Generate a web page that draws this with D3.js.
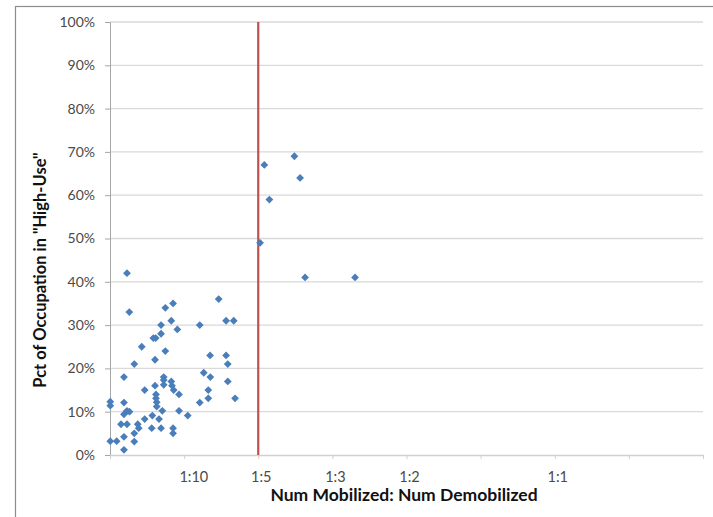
<!DOCTYPE html>
<html>
<head>
<meta charset="utf-8">
<script src="https://cdn.jsdelivr.net/npm/d3@7"></script>
<style>
  body { margin: 0; background: #fff; }
  svg { display: block; }
  text { font-family: Lato, "Open Sans", sans-serif; }
</style>
</head>
<body>
<svg id="chart" width="713" height="517"></svg>
<script>
// ratio = mobilized / (mobilized + demobilized)
const xValues = [
  0.2073, 0.1735, 0.2137, 0.1792, 0.1687, 0.2193, 0.2755,
  0.0191,
  0.0217, 0.0622, 0.0709, 0.1222, 0.0689, 0.1305, 0.1391, 0.0574, 0.1009, 0.0757,
  0.0574, 0.0487, 0.0514, 0.0357, 0.0622, 0.1125, 0.1305, 0.0506, 0.0273, 0.1324,
  0.0157, 0.1054, 0.1128, 0.0604, 0.0604, 0.0689, 0.0506, 0.0604, 0.0697, 0.1324,
  0.0390, 0.0716, 0.1105, 0.0776, 0.0517, 0.0517, 0.1105, 0.1406, 0.0525, 0.1009,
  0.0003, 0.0003, 0.0157, 0.0525, 0.0191, 0.0157, 0.0219, 0.0588, 0.0776, 0.0476,
  0.0874, 0.0551, 0.0390, 0.0124, 0.0191, 0.0312, 0.0323, 0.0469, 0.0574, 0.0709,
  0.0709, 0.0273, 0.0157, 0.0003, 0.0075, 0.0273, 0.0157
];
const yValues = [
  0.69, 0.67, 0.64, 0.59, 0.49, 0.41, 0.41,
  0.42,
  0.33, 0.34, 0.35, 0.36, 0.31, 0.31, 0.31, 0.30, 0.30, 0.29,
  0.28, 0.27, 0.27, 0.25, 0.24, 0.23, 0.23, 0.22, 0.21, 0.21,
  0.18, 0.19, 0.18, 0.18, 0.173, 0.17, 0.16, 0.162, 0.16, 0.17,
  0.15, 0.15, 0.15, 0.14, 0.14, 0.131, 0.131, 0.131, 0.122, 0.121,
  0.123, 0.114, 0.121, 0.112, 0.102, 0.094, 0.100, 0.102, 0.102, 0.091,
  0.091, 0.083, 0.083, 0.071, 0.071, 0.071, 0.062, 0.062, 0.062, 0.062,
  0.05, 0.05, 0.042, 0.032, 0.032, 0.031, 0.012
];
const yTicks = [0, 0.1, 0.2, 0.3, 0.4, 0.5, 0.6, 0.7, 0.8, 0.9, 1.0];
const xTickMarks = [0, 1/12, 2/12, 3/12, 4/12, 5/12, 6/12, 7/12, 8/12];
const xLabelNames = ["1:10", "1:5", "1:3", "1:2", "1:1"];
const xLabelValues = [1/11, 1/6, 1/4, 1/3, 1/2];
const thresholdX = 1/6;

(function () {
const svg = d3.select("#chart");
const mLeft = 110, mRight = 703, mTop = 22, mBottom = 455;

const x = d3.scaleLinear().domain([0, 8/12]).range([mLeft, mRight]);
const y = d3.scaleLinear().domain([0, 1]).range([mBottom, mTop]);

// outer border
svg.append("rect").attr("x", 15.5).attr("y", 6.5).attr("width", 720).attr("height", 540)
  .attr("fill", "none").attr("stroke", "#8c8c8c").attr("stroke-width", 1.2);

// gridlines
svg.append("g").selectAll("line").data(yTicks.slice(1)).join("line")
  .attr("x1", mLeft).attr("x2", mRight)
  .attr("y1", d => y(d)).attr("y2", d => y(d))
  .attr("stroke", "#d9d9d9").attr("stroke-width", 1.3);

// y axis
const yAxis = d3.axisLeft(y).tickValues(yTicks).tickFormat(d3.format(".0%")).tickSize(5).tickPadding(10);
const gy = svg.append("g").attr("transform", `translate(${mLeft},0)`).call(yAxis);
gy.select(".domain").attr("stroke", "#a6a6a6");
gy.selectAll(".tick line").attr("stroke", "#a6a6a6");
gy.selectAll("text").attr("font-size", 14).attr("fill", "#4a4a4a").style("font-family", "Lato, sans-serif");

// x axis (tick marks only)
const xAxis = d3.axisBottom(x).tickValues(xTickMarks).tickFormat("").tickSize(4).tickSizeOuter(0);
const gx = svg.append("g").attr("transform", `translate(0,${mBottom})`).call(xAxis);
gx.select(".domain").attr("stroke", "#d0d0d0").attr("stroke-width", 1.3);
gx.selectAll(".tick line").attr("stroke", "#d0d0d0");

// x labels
svg.append("g").selectAll("text").data(xLabelNames).join("text")
  .attr("x", (d, i) => x(xLabelValues[i]) + 3)
  .attr("y", 482)
  .attr("text-anchor", "middle")
  .attr("font-size", 14.5).attr("fill", "#4a4a4a")
  .text(d => d);

// threshold line
svg.append("line")
  .attr("x1", x(thresholdX)).attr("x2", x(thresholdX))
  .attr("y1", y(1)).attr("y2", y(0))
  .attr("stroke", "#c0504d").attr("stroke-width", 2.2);

// points
const pts = xValues.map((v, i) => [v, yValues[i]]);
svg.append("g").selectAll("path").data(pts).join("path")
  .attr("transform", d => `translate(${x(d[0])},${y(d[1])})`)
  .attr("d", "M0,-3.9L3.9,0L0,3.9L-3.9,0Z")
  .attr("fill", "#4a7ebb");

// axis titles
svg.append("text").attr("x", 404).attr("y", 501).attr("text-anchor", "middle")
  .attr("font-size", 17.5).attr("font-weight", "bold").attr("fill", "#111")
  .text("Num Mobilized: Num Demobilized");
svg.append("text").attr("transform", "translate(46,270) rotate(-90)").attr("text-anchor", "middle")
  .attr("font-size", 16.5).attr("font-weight", "bold").attr("fill", "#111")
  .text("Pct of Occupation in \"High-Use\"");
})();
</script>
</body>
</html>
